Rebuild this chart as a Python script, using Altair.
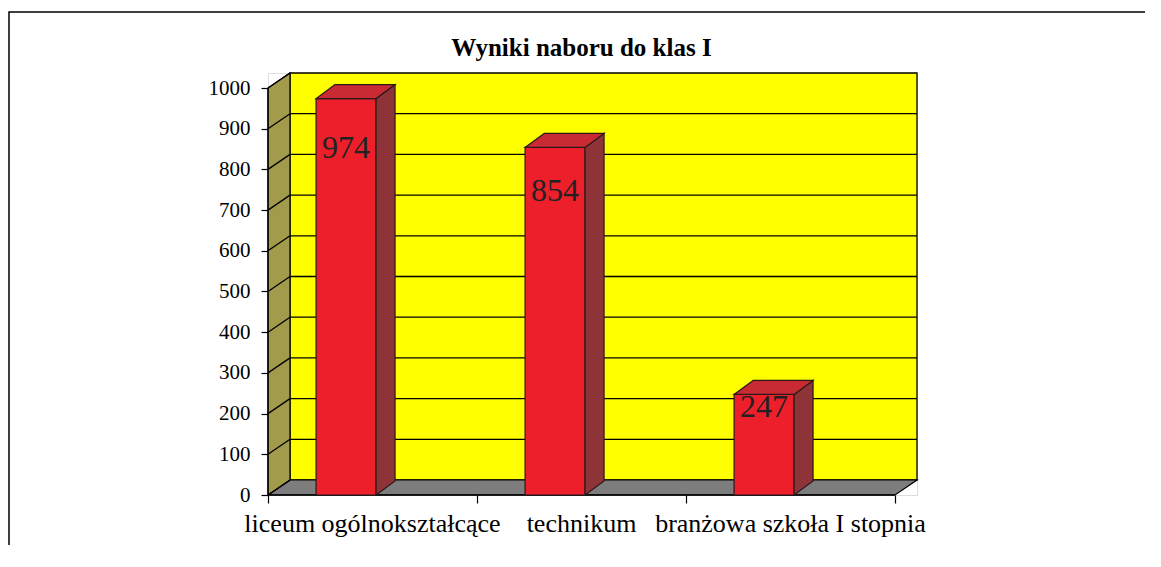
import altair as alt
import pandas as pd

# ---- data ----
categories = ["liceum ogólnokształcące", "technikum", "branżowa szkoła I stopnia"]
values = [974, 854, 247]
y_ticks = [0, 100, 200, 300, 400, 500, 600, 700, 800, 900, 1000]
title_text = "Wyniki naboru do klas I"

# ---- styling / geometry constants ----
FONT = "Liberation Serif"
FRONT_W = 627          # px of the front x axis
FRONT_H = 407          # px for 0..1000 on the front
DEPTH_PX = 22          # 3-D depth of the walls (px to the right)
RISE_PX = 15           # 3-D depth of the walls (px upwards)
BAR_DEPTH_PX = 19
BAR_RISE_PX = 14
BAR_START = 0.23       # bar front face position inside its band
BAR_END = 0.517
LABEL_FRAC = 0.875
PAD = {"left": 260, "top": 65, "right": 228, "bottom": 50}

N = len(categories)
YMAX = max(y_ticks)
dxu = DEPTH_PX / FRONT_W * N
dyu = RISE_PX / FRONT_H * YMAX
bdx = BAR_DEPTH_PX / FRONT_W * N
bdy = BAR_RISE_PX / FRONT_H * YMAX
W = FRONT_W + DEPTH_PX
H = FRONT_H + RISE_PX
XMAX = N + dxu
YTOP = YMAX + dyu

x_scale = alt.Scale(domain=[0, XMAX], nice=False, zero=False)
y_scale = alt.Scale(domain=[0, YTOP], nice=False, zero=False)
x_axis = alt.Axis(values=list(range(N + 1)), labels=False, domain=False, grid=False,
                  tickSize=8, tickColor="black", tickWidth=1.2, title=None)
y_axis = alt.Axis(values=y_ticks, domain=False, grid=False, tickSize=7, format="d",
                  tickColor="black", tickWidth=1.2, labelPadding=11, labelFont=FONT,
                  labelFontSize=21, labelColor="black", title=None)


def X(f):
    return alt.X(f, type="quantitative", scale=x_scale, axis=x_axis)


def Y(f):
    return alt.Y(f, type="quantitative", scale=y_scale, axis=y_axis)


# ---- tables built from the arrays ----
bars = pd.DataFrame({
    "cat": categories,
    "idx": list(range(N)),
    "value": values,
})
bars["x0"] = bars["idx"] + BAR_START
bars["x1"] = bars["idx"] + BAR_END
bars["xc"] = (bars["x0"] + bars["x1"]) / 2
bars["ly"] = bars["value"] * LABEL_FRAC
bars["catx"] = bars["idx"] + 0.5
bars["zero"] = 0

side_rows, top_rows = [], []
for _, r in bars.iterrows():
    side_rows.append({"bar": r["cat"], "x": r["x1"], "ya": 0.0, "yb": r["value"]})
    side_rows.append({"bar": r["cat"], "x": r["x1"] + bdx, "ya": bdy, "yb": r["value"] + bdy})
    top_rows.append({"bar": r["cat"], "y": r["value"], "xa": r["x0"], "xb": r["x1"]})
    top_rows.append({"bar": r["cat"], "y": r["value"] + bdy, "xa": r["x0"] + bdx, "xb": r["x1"] + bdx})
side = pd.DataFrame(side_rows)
top = pd.DataFrame(top_rows)

wall = pd.DataFrame([{"x0": dxu, "x1": XMAX, "y0": dyu, "y1": YTOP}])
grid = pd.DataFrame({"k": [t + dyu for t in y_ticks[1:-1]], "x0": dxu, "x1": XMAX})
floor = pd.DataFrame([{"y": 0.0, "xa": 0.0, "xb": float(N)},
                      {"y": dyu, "xa": dxu, "xb": XMAX}])
lwall = pd.DataFrame([{"x": 0.0, "ya": 0.0, "yb": float(YMAX)},
                      {"x": dxu, "ya": dyu, "yb": YTOP}])
diag = pd.DataFrame({"x0": 0.0, "x1": dxu, "y0": y_ticks,
                     "y1": [t + dyu for t in y_ticks]})
axl = pd.DataFrame([{"x0": 0.0, "x1": float(N), "y0": 0.0, "y1": float(YMAX)}])
ttl = pd.DataFrame([{"t": title_text, "tx": N / 2, "ty": YTOP}])

EDGE = "#2a1a1a"

# outer frame of the chart object: its right and bottom edges lie outside the picture
frame = alt.Chart(alt.Data(values=[{}])).mark_rect(
    fill=None, stroke="black", strokeWidth=1.5
).encode(x=alt.value(-259), x2=alt.value(W + PAD["right"] + 60),
         y=alt.value(-61), y2=alt.value(H + PAD["bottom"] + 60))

wall_l = alt.Chart(wall).mark_rect(fill="#FFFF00", stroke="black", strokeWidth=1.3).encode(
    x=X("x0"), x2="x1", y=Y("y0"), y2="y1")

grid_l = alt.Chart(grid).mark_rule(color="black", strokeWidth=1.3).encode(
    x=X("x0"), x2="x1", y=Y("k"))

floor_l = alt.Chart(floor).mark_area(orient="horizontal", fill="#7d7d7d", stroke="black",
                                     strokeWidth=1.2).encode(
    y=Y("y"), x=X("xa"), x2="xb")

lwall_l = alt.Chart(lwall).mark_area(fill="#a39b4c", stroke="black", strokeWidth=1.2).encode(
    x=X("x"), y=Y("ya"), y2="yb")

diag_l = alt.Chart(diag).mark_rule(color="black", strokeWidth=1.3).encode(
    x=X("x0"), x2="x1", y=Y("y0"), y2="y1")

yaxis_l = alt.Chart(axl).mark_rule(color="black", strokeWidth=1.3).encode(
    x=X("x0"), y=Y("zero_y"), y2="y1").transform_calculate(zero_y="0")
xaxis_l = alt.Chart(axl).mark_rule(color="black", strokeWidth=1.3).encode(
    x=X("x0"), x2="x1", y=Y("zero_y")).transform_calculate(zero_y="0")

front_l = alt.Chart(bars).mark_rect(fill="#ec1f2b", stroke=EDGE, strokeWidth=1.2).encode(
    x=X("x0"), x2="x1", y=Y("zero"), y2="value")

side_l = alt.Chart(side).mark_area(fill="#8e3338", stroke=EDGE, strokeWidth=1.2).encode(
    x=X("x"), y=Y("ya"), y2="yb", detail="bar:N")

top_l = alt.Chart(top).mark_area(orient="horizontal", fill="#c92a33", stroke=EDGE,
                                 strokeWidth=1.2).encode(
    y=Y("y"), x=X("xa"), x2="xb", detail="bar:N")

labels_l = alt.Chart(bars).mark_text(font=FONT, fontSize=32, color="#222222",
                                     baseline="middle", align="center").encode(
    x=X("xc"), y=Y("ly"), text="value:Q")

cat_l = alt.Chart(bars).mark_text(font=FONT, fontSize=26, color="black",
                                  baseline="middle", align="center", dy=29).encode(
    x=X("catx"), y=Y("zero"), text="cat:N")

title_l = alt.Chart(ttl).mark_text(font=FONT, fontSize=25, fontWeight="bold", color="black",
                                   baseline="middle", align="center", dy=-25).encode(
    x=X("tx"), y=Y("ty"), text="t:N")

chart = alt.layer(
    frame, wall_l, grid_l, floor_l, lwall_l, diag_l, yaxis_l, xaxis_l,
    front_l, side_l, top_l, labels_l, cat_l, title_l
).properties(
    width=W,
    height=H,
    autosize=alt.AutoSizeParams(type="none"),
    padding=PAD,
).configure_view(stroke=None).configure(background="white")

chart.save("out.html", embed_options={"renderer": "svg", "actions": False})
